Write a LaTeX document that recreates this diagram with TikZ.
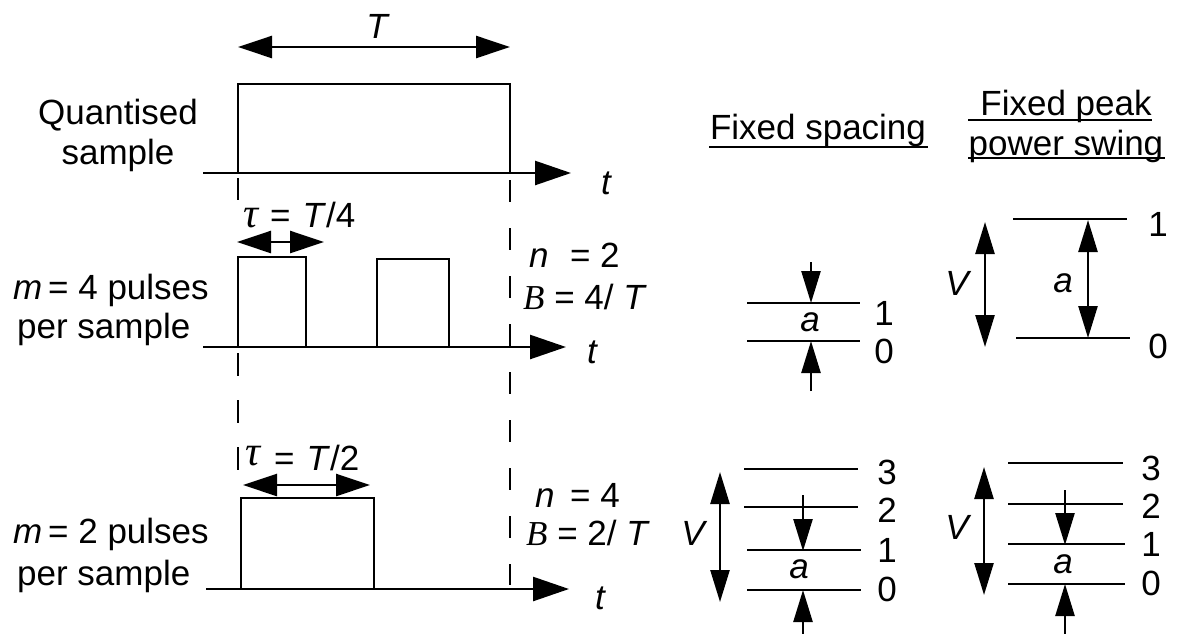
\documentclass[tikz,border=0pt]{standalone}
\usepackage{fontspec}
\setmainfont{Liberation Sans}
\newfontfamily\serifit{Liberation Serif}
\usetikzlibrary{arrows.meta}
\tikzset{
  wave/.style={line width=2.5pt, line join=miter},
  ax/.style={line width=2.5pt, -{Triangle[length=36pt,width=24pt]}},
  dbl/.style={line width=2.5pt, {Triangle[length=34pt,width=22pt]}-{Triangle[length=34pt,width=22pt]}},
  vdbl/.style={line width=2.5pt, {Triangle[length=32pt,width=19pt]}-{Triangle[length=32pt,width=19pt]}},
  varr/.style={line width=2.5pt, -{Triangle[length=32pt,width=19pt]}},
  lvl/.style={line width=2.5pt},
  dsh/.style={line width=2.2pt, dash pattern=on 22pt off 26pt},
  lbl/.style={inner sep=0pt, font=\fontsize{35}{40}\selectfont},
}
\newcommand{\tauglyph}{{\fontsize{42}{42}\selectfont\serifit\itshape τ}}
\begin{document}
\begin{tikzpicture}[x=1pt,y=-1pt]
\useasboundingbox (0,0) rectangle (1177,633);

% ---------- row 1 ----------
\coordinate (TL) at (238,47); \coordinate (TR) at (510,47);
\draw[dbl] (TL) -- (TR);
\node[lbl] (Tlab) at (377,26) {\itshape T};
\draw[wave] (238,173) -- (238,84) -- (510,84) -- (510,173);
\coordinate (a1s) at (203,173); \coordinate (a1e) at (571,173);
\draw[ax] (a1s) -- (a1e);
\node[lbl] (t1) at (606,183) {\itshape t};
\node[lbl,align=center] (q) at (118,135) {Quantised\\[0pt]sample};

% dashed guides
\draw[line width=2.2pt] (238,178) -- (238,200);
\draw[dsh, dash pattern=on 23pt off 24pt] (238,353) -- (238,473);
\draw[dsh] (510,180) -- (510,585);

% ---------- row 2 ----------
\node[lbl,anchor=west] (tau1) at (243,215) {\tauglyph\hspace{12pt}=\hspace{12pt}\textit{T}/4};
\coordinate (b1) at (237,242); \coordinate (b2) at (324,242);
\draw[dbl] (b1) -- (b2);
\draw[wave] (238,347) -- (238,257) -- (306,257) -- (306,347);
\draw[wave] (377,347) -- (377,259) -- (449,259) -- (449,347);
\coordinate (a2s) at (203,347); \coordinate (a2e) at (566,347);
\draw[ax] (a2s) -- (a2e);
\node[lbl] (t2) at (592,352) {\itshape t};
\node[lbl,anchor=west] (m4) at (13,290) {\textit{m}\,= 4 pulses};
\node[lbl,anchor=west] (ps1) at (17,329) {per sample};
\node[lbl,anchor=west] (n2) at (529,255) {\textit{n}\,\, = 2};
\node[lbl,anchor=west] (B4) at (523,297) {{\serifit\itshape B} = 4/ \textit{T}};

% ---------- row 3 ----------
\node[lbl,anchor=west] (tau2) at (245,458) {\raisebox{5pt}{\tauglyph}\hspace{14pt}=\hspace{12pt}\textit{T}/2};
\coordinate (c1) at (243,485); \coordinate (c2) at (370,485);
\draw[dbl] (c1) -- (c2);
\draw[wave] (241,589) -- (241,498) -- (374,498) -- (374,589);
\coordinate (a3s) at (206,589); \coordinate (a3e) at (569,589);
\draw[ax] (a3s) -- (a3e);
\node[lbl] (t3) at (600,598) {\itshape t};
\node[lbl,anchor=west] (m2) at (13,534) {\textit{m}\,= 2 pulses};
\node[lbl,anchor=west] (ps2) at (17,576) {per sample};
\node[lbl,anchor=west] (n4) at (535,495) {\textit{n}\, = 4};
\node[lbl,anchor=west] (B2) at (526,533) {{\serifit\itshape B} = 2/ \textit{T}};

% ---------- headings ----------
\node[lbl] (fs) at (818,130) {Fixed spacing};
\draw[line width=2pt] (709,147) -- (928,147);
\node[lbl] (fp1) at (1066,106) {Fixed peak};
\draw[line width=2pt] (968,120) -- (1152,120);
\node[lbl] (fp2) at (1066,146) {power swing};
\draw[line width=2pt] (968,158) -- (1165,158);

% ---------- fixed spacing, n=2 ----------
\draw[lvl] (747,303) -- (860,303);
\draw[lvl] (747,341) -- (860,341);
\node[lbl] (fs1) at (884,313) {1};
\node[lbl] (fs0) at (884,351) {0};
\coordinate (d1) at (811,262); \coordinate (d2) at (811,303);
\draw[varr] (d1) -- (d2);
\coordinate (u1) at (811,391); \coordinate (u2) at (811,341);
\draw[varr] (u1) -- (u2);
\node[lbl] (fsa) at (810,322) {\itshape a};

% ---------- fixed peak, n=2 ----------
\draw[lvl] (1013,219) -- (1127,219);
\draw[lvl] (1016,338) -- (1130,338);
\node[lbl] (fp1l) at (1158,224) {1};
\node[lbl] (fp0l) at (1158,346) {0};
\coordinate (v1) at (985,222); \coordinate (v2) at (985,347);
\draw[vdbl] (v1) -- (v2);
\node[lbl] (fpV) at (957,283) {\itshape V};
\coordinate (e1) at (1088,220); \coordinate (e2) at (1088,338);
\draw[vdbl] (e1) -- (e2);
\node[lbl] (fpa) at (1063,283) {\itshape a};

% ---------- fixed spacing, n=4 ----------
\draw[lvl] (744,469) -- (858,469);
\draw[lvl] (744,507) -- (858,507);
\draw[lvl] (747,550) -- (861,550);
\draw[lvl] (747,590) -- (861,590);
\node[lbl] (g3) at (887,472) {3};
\node[lbl] (g2) at (887,510) {2};
\node[lbl] (g1) at (887,550) {1};
\node[lbl] (g0) at (887,589) {0};
\coordinate (w1) at (720,472); \coordinate (w2) at (720,602);
\draw[vdbl] (w1) -- (w2);
\node[lbl] (gV) at (693,533) {\itshape V};
\coordinate (h1) at (803,495); \coordinate (h2) at (803,551);
\draw[varr] (h1) -- (h2);
\coordinate (k1) at (803,640); \coordinate (k2) at (803,590);
\draw[varr] (k1) -- (k2);
\node[lbl] (ga) at (799,569) {\itshape a};

% ---------- fixed peak, n=4 ----------
\draw[lvl] (1008,463) -- (1123,463);
\draw[lvl] (1008,504) -- (1123,504);
\draw[lvl] (1008,544) -- (1125,544);
\draw[lvl] (1008,584) -- (1125,584);
\node[lbl] (p3) at (1151,468) {3};
\node[lbl] (p2) at (1151,506) {2};
\node[lbl] (p1) at (1151,544) {1};
\node[lbl] (p0) at (1151,583) {0};
\coordinate (x1) at (984,467); \coordinate (x2) at (984,595);
\draw[vdbl] (x1) -- (x2);
\node[lbl] (pV) at (957,527) {\itshape V};
\coordinate (y1) at (1065,490); \coordinate (y2) at (1065,545);
\draw[varr] (y1) -- (y2);
\coordinate (z1) at (1065,640); \coordinate (z2) at (1065,584);
\draw[varr] (z1) -- (z2);
\node[lbl] (pa) at (1063,564) {\itshape a};
\end{tikzpicture}
\end{document}
